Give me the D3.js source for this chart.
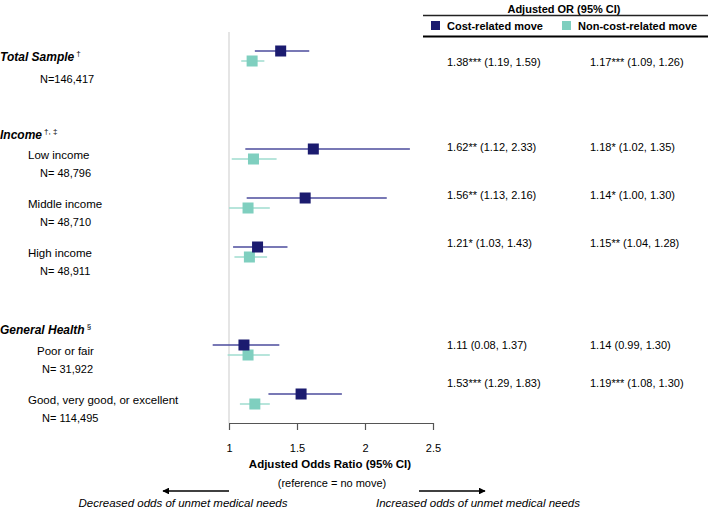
<!DOCTYPE html>
<html><head><meta charset="utf-8">
<script src="https://cdn.jsdelivr.net/npm/d3@7"></script>
<style>
body{margin:0;background:#fff;}
svg{font-family:"Liberation Sans",Arial,Helvetica,sans-serif;}
</style></head>
<body><svg id="c" width="708" height="511"></svg>
<script>
// ---- data ----
const rowNames = ["Total Sample","Low income","Middle income","High income","Poor or fair","Good, very good, or excellent"];
const rowN = ["N=146,417","N= 48,796","N= 48,710","N= 48,911","N= 31,922","N= 114,495"];
const rowSlot = [0,2,3,4,6,7];
const costOR = [1.38,1.62,1.56,1.21,1.11,1.53];
const costLo = [1.19,1.12,1.13,1.03,0.88,1.29];
const costHi = [1.59,2.33,2.16,1.43,1.37,1.83];
const nonOR = [1.17,1.18,1.14,1.15,1.14,1.19];
const nonLo = [1.09,1.02,1.00,1.04,0.99,1.08];
const nonHi = [1.26,1.35,1.30,1.28,1.30,1.30];
const costLabels = ["1.38*** (1.19, 1.59)","1.62** (1.12, 2.33)","1.56** (1.13, 2.16)","1.21* (1.03, 1.43)","1.11 (0.08, 1.37)","1.53*** (1.29, 1.83)"];
const nonLabels = ["1.17*** (1.09, 1.26)","1.18* (1.02, 1.35)","1.14* (1.00, 1.30)","1.15** (1.04, 1.28)","1.14 (0.99, 1.30)","1.19*** (1.08, 1.30)"];
const xTicks = [1,1.5,2,2.5];
const seriesNames = ["Cost-related move","Non-cost-related move"];

// ---- layout ----
const svg = d3.select("#c");
const x = d3.scaleLinear().domain([1,2.5]).range([229,433]);
const y = d3.scaleLinear().domain([0,7]).range([51,394]);
const costCol = "#1b1b6f", nonCol = "#7fcfbf";
const costLine = "#4b4b9c", nonLine = "#9fdccf";

// reference line
svg.append("line").attr("x1",x(1)).attr("x2",x(1)).attr("y1",32).attr("y2",423)
  .attr("stroke","#dcdcdc").attr("stroke-width",1.5);

// axis
const ax = svg.append("g").attr("transform","translate(0,423)")
  .call(d3.axisBottom(x).tickValues(xTicks).tickSize(7).tickSizeOuter(0).tickFormat(d3.format("")));
ax.select(".domain").attr("stroke","#555").attr("stroke-width",1.2);
ax.selectAll(".tick line").attr("stroke","#555").attr("stroke-width",1.2);
ax.selectAll(".tick text").attr("font-size",11).attr("fill","#000").attr("dy","1.7em")
  .attr("font-family","Liberation Sans, Arial, sans-serif");

svg.append("text").attr("x",330).attr("y",468).attr("text-anchor","middle")
  .attr("font-size",11.5).attr("font-weight","bold").text("Adjusted Odds Ratio (95% CI)");
svg.append("text").attr("x",332).attr("y",487).attr("text-anchor","middle")
  .attr("font-size",11).text("(reference = no move)");

// arrows
const defs = svg.append("defs");
defs.append("marker").attr("id","ah").attr("viewBox","0 0 10 10").attr("refX",9).attr("refY",5)
  .attr("markerWidth",4.5).attr("markerHeight",4.5).attr("orient","auto")
  .append("path").attr("d","M0,0L10,5L0,10z").attr("fill","#000");
svg.append("line").attr("x1",229).attr("x2",163).attr("y1",491).attr("y2",491)
  .attr("stroke","#000").attr("stroke-width",1.5).attr("marker-end","url(#ah)");
svg.append("line").attr("x1",419).attr("x2",485).attr("y1",491).attr("y2",491)
  .attr("stroke","#000").attr("stroke-width",1.5).attr("marker-end","url(#ah)");
svg.append("text").attr("x",183).attr("y",507).attr("text-anchor","middle").attr("font-size",11.5)
  .attr("font-style","italic").text("Decreased odds of unmet medical needs");
svg.append("text").attr("x",478).attr("y",507).attr("text-anchor","middle").attr("font-size",11.5)
  .attr("font-style","italic").text("Increased odds of unmet medical needs");

// headers on left
function header(txt, sup, yy){
  const t = svg.append("text").attr("x",0).attr("y",yy).attr("font-size",12)
    .attr("font-weight","bold").attr("font-style","italic").text(txt);
  t.append("tspan").attr("dx",2).attr("dy",-5).attr("font-size",8).attr("font-weight","normal")
    .attr("font-style","normal").text(sup);
}
header("Total Sample","†", y(0)+10);
header("Income","†, ‡", y(1.72)+4);
header("General Health","§", y(5.7)+4);

// row labels
const nameX = [null,28,28,28,37,28];
const nX = [40,40,40,40,42,42];
rowNames.forEach((nm,i)=>{
  if(i>0) svg.append("text").attr("x",nameX[i]).attr("y",y(rowSlot[i])+10).attr("font-size",11.5).text(nm);
  svg.append("text").attr("x",nX[i]).attr("y",y(rowSlot[i])+(i===0?32:28)).attr("font-size",11).text(rowN[i]);
});

// CI lines and markers
const ms = 11;
rowSlot.forEach((s,i)=>{
  const yc = y(s), yn = y(s)+10;
  svg.append("line").attr("x1",x(costLo[i])).attr("x2",x(costHi[i])).attr("y1",yc).attr("y2",yc)
    .attr("stroke",costLine).attr("stroke-width",1.5);
  svg.append("line").attr("x1",x(nonLo[i])).attr("x2",x(nonHi[i])).attr("y1",yn).attr("y2",yn)
    .attr("stroke",nonLine).attr("stroke-width",1.5);
  svg.append("rect").attr("x",x(nonOR[i])-ms/2).attr("y",yn-ms/2).attr("width",ms).attr("height",ms).attr("fill",nonCol);
  svg.append("rect").attr("x",x(costOR[i])-ms/2).attr("y",yc-ms/2).attr("width",ms).attr("height",ms).attr("fill",costCol);
});

// right table
svg.append("text").attr("x",564).attr("y",13).attr("text-anchor","middle").attr("font-size",11)
  .attr("font-weight","bold").text("Adjusted OR (95% CI)");
svg.append("line").attr("x1",423).attr("x2",708).attr("y1",15.5).attr("y2",15.5).attr("stroke","#222").attr("stroke-width",1.3);
svg.append("line").attr("x1",423).attr("x2",708).attr("y1",36.5).attr("y2",36.5).attr("stroke","#000").attr("stroke-width",1.8);
const legX = [431,562];
[costCol,nonCol].forEach((c,i)=>{
  svg.append("rect").attr("x",legX[i]).attr("y",21).attr("width",9).attr("height",9).attr("fill",c);
  svg.append("text").attr("x",legX[i]+16).attr("y",30).attr("font-size",11).attr("font-weight","bold").text(seriesNames[i]);
});
const valDy = [15,2,1,0,4,-7];
rowSlot.forEach((s,i)=>{
  svg.append("text").attr("x",447).attr("y",y(s)+valDy[i]).attr("font-size",11).text(costLabels[i]);
  svg.append("text").attr("x",590).attr("y",y(s)+valDy[i]).attr("font-size",11).text(nonLabels[i]);
});
</script></body></html>
